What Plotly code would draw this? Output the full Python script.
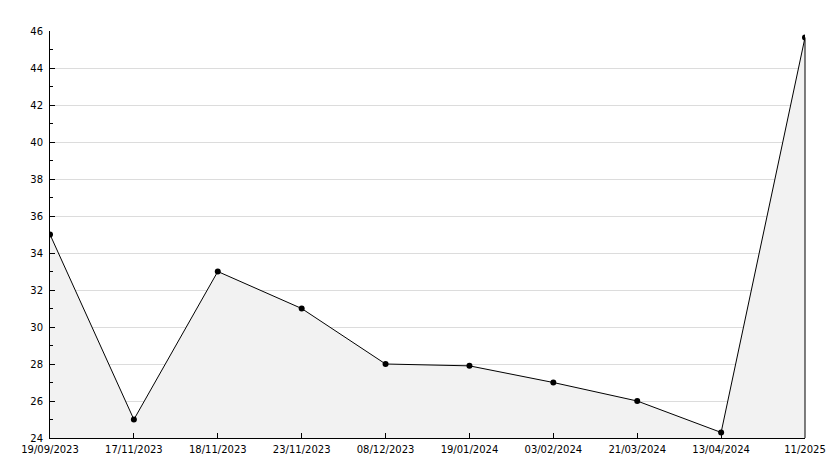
import plotly.graph_objects as go

dates = ["19/09/2023", "17/11/2023", "18/11/2023", "23/11/2023", "08/12/2023",
         "19/01/2024", "03/02/2024", "21/03/2024", "13/04/2024", "11/2025"]
values = [35.0, 25.0, 33.0, 31.0, 28.0, 27.9, 27.0, 26.0, 24.3, 45.65]
y_min, y_max = 24, 46

fig = go.Figure()
fig.add_trace(go.Scatter(
    x=dates, y=values, mode="lines+markers",
    fill="tozeroy", fillcolor="#f2f2f2",
    line=dict(color="black", width=1),
    marker=dict(color="black", size=6, symbol="circle"),
    hoverinfo="x+y",
))
fig.add_shape(type="line", xref="paper", x0=1, x1=1, yref="y",
              y0=y_min, y1=values[-1], line=dict(color="black", width=1))

fig.update_layout(
    width=834, height=468,
    margin=dict(l=42, r=37, t=23, b=38),
    paper_bgcolor="white", plot_bgcolor="white",
    showlegend=False,
    font=dict(family="DejaVu Sans", size=10, color="black"),
)
fig.update_xaxes(
    type="category", range=[0, len(dates) - 1],
    showline=True, linecolor="black", linewidth=1,
    ticks="inside", ticklen=5, tickcolor="black",
    showgrid=False, zeroline=False, ticklabelstandoff=2,
)
fig.update_yaxes(
    range=[y_min, y_max], dtick=2, tick0=0,
    showline=True, linecolor="black", linewidth=1,
    ticks="inside", ticklen=5, tickcolor="black",
    showgrid=True, gridcolor="#dcdcdc", gridwidth=1, zeroline=False,
    ticklabelstandoff=4,
    minor=dict(dtick=1, ticks="inside", ticklen=3, tickcolor="black", showgrid=False),
)
fig.write_html("out.html")
